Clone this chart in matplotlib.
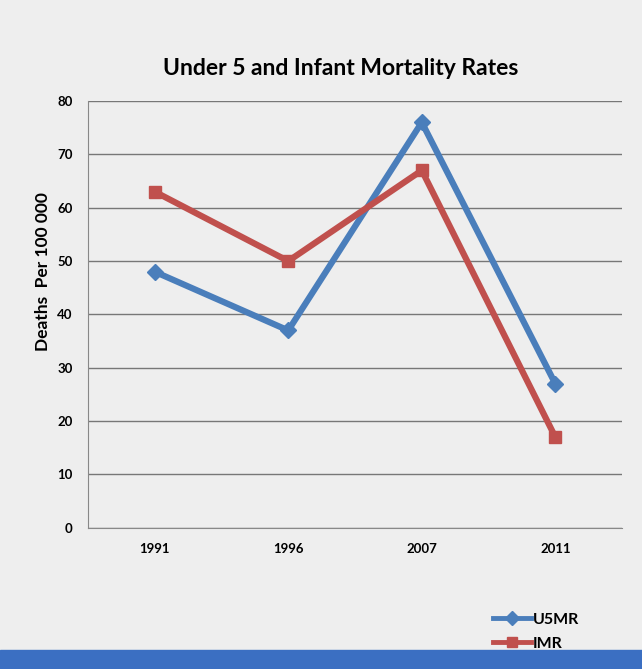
import matplotlib
matplotlib.use("Agg")
import matplotlib.pyplot as plt
from matplotlib.patches import Rectangle

# chart data
years = ["1991", "1996", "2007", "2011"]
u5mr = [48, 37, 76, 27]
imr = [63, 50, 67, 17]

plt.rcParams['font.family'] = ['Lato', 'DejaVu Sans']

bg = "#eeeeee"
fig = plt.figure(figsize=(6.42, 6.69), dpi=100, facecolor=bg)
ax = fig.add_axes([0.137, 0.211, 0.832, 0.638])
ax.set_facecolor(bg)

x = range(len(years))
ax.plot(x, u5mr, color="#4a7ebb", lw=4.5, marker="D", ms=8, label="U5MR")
ax.plot(x, imr, color="#c0504d", lw=4.5, marker="s", ms=9, label="IMR")

ax.set_xlim(-0.5, 3.5)
ax.set_ylim(0, 80)
ax.set_yticks(range(0, 81, 10))
ax.set_xticks(list(x))
ax.set_xticklabels(years)
ax.yaxis.grid(True, color="#777777", lw=1)
ax.set_axisbelow(True)
for s in ["top", "right"]:
    ax.spines[s].set_visible(False)
ax.spines["left"].set_color("#888888")
ax.spines["bottom"].set_color("#888888")
ax.tick_params(axis="both", length=0, labelsize=9.5, pad=11)
for lab in ax.get_xticklabels() + ax.get_yticklabels():
    lab.set_fontweight("bold")

ax.set_ylabel("Deaths  Per 100 000", fontsize=12.5, fontweight="bold")
ax.yaxis.set_label_coords(-0.07, 0.6)
fig.text(0.53, 0.898, "Under 5 and Infant Mortality Rates", ha="center",
         va="center", fontsize=16.5, fontweight="bold")

leg = fig.legend(loc="center", bbox_to_anchor=(0.835, 0.056), frameon=False,
                 handlelength=2.4, handletextpad=0.1, labelspacing=0.6,
                 prop={"weight": "bold", "size": 11.5})
for h in leg.legend_handles:
    h.set_linewidth(3.5)
    h.set_markersize(7)

# blue band at the bottom
fig.patches.append(Rectangle((0, 0), 1, 0.028, transform=fig.transFigure,
                             color="#3b6fc2", zorder=0))

fig.savefig("out.png", dpi=100, facecolor=bg)
